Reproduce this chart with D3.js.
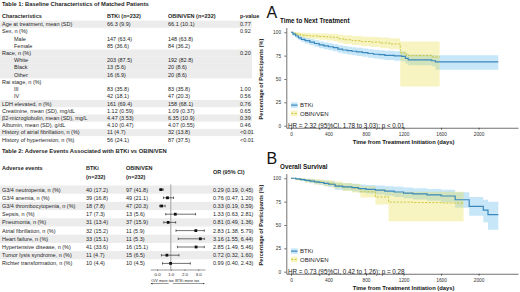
<!DOCTYPE html>
<html>
<head>
<meta charset="utf-8">
<script src="https://cdn.jsdelivr.net/npm/d3@7"></script>
<style>
  body { margin: 0; background: #fff; }
  svg { display: block; font-family: "Liberation Sans", Arial, sans-serif; }
</style>
</head>
<body>
<svg id="fig" width="520" height="292"></svg>
<script>
// ---------- Table 1 data ----------
const t1Header = ["Characteristics", "BTKi (n=232)", "OBIN/VEN (n=232)", "p-value"];
const t1Labels = ["Age at treatment, mean (SD)", "Sex, n (%)", "Male", "Female", "Race, n (%)", "White", "Black", "Other",
  "Rai stage, n (%)", "III", "IV", "LDH elevated, n (%)", "Creatinine, mean (SD), mg/dL", "β2-microglobulin, mean (SD), mg/L",
  "Albumin, mean (SD), g/dL", "History of atrial fibrillation, n (%)", "History of hypertension, n (%)"];
const t1Sub = [0, 0, 1, 1, 0, 1, 1, 1, 0, 1, 1, 0, 0, 0, 0, 0, 0];
const t1Btki = ["66.3 (9.9)", "", "147 (63.4)", "85 (36.6)", "", "203 (87.5)", "13 (5.6)", "16 (6.9)", "", "83 (35.8)", "42 (18.1)",
  "161 (69.4)", "1.12 (0.59)", "4.47 (3.53)", "4.10 (0.47)", "11 (4.7)", "56 (24.1)"];
const t1Obin = ["66.1 (10.1)", "", "148 (63.8)", "84 (36.2)", "", "192 (82.8)", "20 (8.6)", "20 (8.6)", "", "83 (35.8)", "47 (20.3)",
  "158 (68.1)", "1.09 (0.37)", "6.35 (10.9)", "4.07 (0.55)", "32 (13.8)", "87 (37.5)"];
const t1P = ["0.77", "0.92", "", "", "0.20", "", "", "", "", "1.00", "0.56", "0.76", "0.65", "0.39", "0.46", "<0.01", "<0.01"];

// ---------- Table 2 data ----------
const t2Header = ["Adverse events", "BTKi", "OBIN/VEN", "OR (95% CI)"];
const t2N = ["(n=232)", "(n=232)"];
const t2Labels = ["G3/4 neutropenia, n (%)", "G3/4 anemia, n (%)", "G3/4 thrombocytopenia, n (%)", "Sepsis, n (%)", "Pneumonia, n (%)",
  "Atrial fibrillation, n (%)", "Heart failure, n (%)", "Hypertensive disease, n (%)", "Tumor lysis syndrome, n (%)", "Richter transformation, n (%)"];
const t2Btki = ["40 (17.2)", "39 (16.8)", "18 (7.8)", "17 (7.3)", "31 (13.4)", "32 (15.2)", "33 (15.1)", "41 (33.6)", "11 (4.7)", "10 (4.4)"];
const t2Obin = ["97 (41.8)", "49 (21.1)", "47 (20.3)", "13 (5.6)", "37 (15.9)", "11 (5.9)", "11 (5.3)", "16 (15.1)", "15 (6.5)", "10 (4.5)"];
const orEst = [0.29, 0.76, 0.33, 1.33, 0.81, 2.83, 3.16, 2.85, 0.72, 0.99];
const orLo = [0.19, 0.47, 0.19, 0.63, 0.49, 1.38, 1.55, 1.49, 0.32, 0.40];
const orHi = [0.45, 1.20, 0.59, 2.81, 1.36, 5.79, 6.44, 5.46, 1.60, 2.43];
const orTicks = [0, 1, 2, 3];

// ---------- KM: time to next treatment ----------
const ttntBtkiT = [0, 20, 50, 80, 110, 150, 200, 250, 300, 350, 400, 450, 500, 550, 600, 650, 700, 760, 820, 880, 940, 1000, 1100, 1180, 1220, 1250, 1500, 1540, 2210];
const ttntBtkiS = [100, 98, 96, 94, 92.5, 91, 89.5, 88, 86.5, 85.5, 84.5, 83.5, 82, 81, 80.3, 79.7, 79, 78.2, 77.3, 76.5, 76, 75.3, 74.8, 74.3, 72, 70.5, 69.5, 68.3, 68.3];
const ttntBtkiLo = [100, 96, 93.5, 91.5, 89.5, 87.8, 86, 84.5, 83, 81.8, 80.8, 79.7, 78.2, 77, 76.2, 75.5, 74.7, 73.8, 72.8, 71.8, 71.2, 70.4, 69.6, 69, 66.5, 64.8, 63.5, 60, 60];
const ttntBtkiHi = [100, 100, 98.5, 96.8, 95.5, 94, 92.8, 91.5, 90, 89, 88.2, 87.3, 86, 85.2, 84.5, 84, 83.4, 82.7, 81.8, 81.2, 80.8, 80.2, 79.8, 79.5, 77.5, 76.2, 75.8, 75.5, 75.5];
const ttntObinT = [0, 30, 60, 100, 150, 200, 300, 380, 450, 500, 560, 650, 750, 850, 950, 1050, 1165, 1230, 1500, 1585];
const ttntObinS = [100, 99, 98, 97, 96.5, 96, 95.5, 95, 94.5, 93, 92, 91, 90, 89.5, 88.5, 87.5, 78, 75, 73.5, 73.5];
const ttntObinLo = [100, 97.5, 96, 94.5, 93.5, 93, 92, 91.2, 90.5, 88.8, 87.5, 86.3, 85, 84.2, 83, 81.8, 42, 42, 42, 42];
const ttntObinHi = [100, 100, 100, 99.5, 99.2, 99, 98.8, 98.5, 98.3, 97.3, 96.7, 96, 95.3, 95, 94.3, 93.7, 90, 90, 90, 90];

// ---------- KM: overall survival ----------
const osBtkiT = [0, 50, 100, 150, 200, 250, 300, 350, 400, 470, 550, 650, 720, 800, 900, 1000, 1100, 1200, 1300, 1450, 1600, 1750, 1900, 2050, 2100, 2210];
const osBtkiS = [100, 99.3, 98.6, 97.8, 97, 96.2, 95.5, 94.6, 93.6, 91.5, 90.8, 90, 89, 88.2, 87.3, 86.3, 85.3, 84.2, 83.3, 82.2, 81, 77, 70, 66, 61, 61];
const osBtkiLo = [100, 98.2, 97, 95.8, 94.7, 93.6, 92.7, 91.5, 90.3, 87.8, 86.9, 85.9, 84.7, 83.6, 82.5, 81.2, 80, 78.6, 77.4, 75.9, 74.2, 68.5, 60, 53, 45, 45];
const osBtkiHi = [100, 100, 100, 99.5, 99.1, 98.6, 98.2, 97.6, 96.9, 95.3, 94.8, 94.2, 93.4, 92.8, 92.2, 91.5, 90.8, 90, 89.4, 88.6, 87.8, 85, 80, 77, 75, 75];
const osObinT = [0, 60, 150, 250, 350, 450, 550, 650, 740, 900, 1040, 1300, 1600, 1840];
const osObinS = [100, 99, 97.5, 96, 94.5, 92.5, 90.5, 89.3, 85.5, 80, 74.5, 74, 73.5, 73.5];
const osObinLo = [100, 97.5, 95.3, 93.4, 91.5, 89, 86.5, 84.8, 79.5, 72, 54, 54, 54, 54];
const osObinHi = [100, 100, 99.5, 98.8, 97.8, 96.5, 95, 94, 91.5, 88.5, 85.5, 85.5, 85.5, 85.5];

const groups = ["BTKi", "OBIN/VEN"];
const yTicks = [0, 25, 50, 75, 100];
const xTicks = [0, 400, 800, 1200, 1600, 2000];

const svg = d3.select("#fig");
const ink = "#262626";
const stripe = "#ececec";
const fs = 5.5;

// ================= Table 1 =================
svg.append("text").attr("x", 2).attr("y", 6.4)
  .attr("font-size", 5.8).attr("font-weight", "bold").attr("fill", ink)
  .text("Table 1: Baseline Characteristics of Matched Patients");

const t1Cols = [2, 107, 168, 240];
const t1y = d3.scaleBand().domain(d3.range(t1Labels.length)).range([20.6, 20.6 + 7.22 * t1Labels.length]);

// shading alternates per group (a group starts at every non-indented row)
let grp = -1;
const t1Grp = t1Sub.map(s => (s ? grp : ++grp));
svg.append("g").selectAll("rect")
  .data(d3.range(t1Labels.length).filter(i => t1Grp[i] % 2 === 0))
  .join("rect")
  .attr("x", 0).attr("width", 252)
  .attr("y", i => t1y(i)).attr("height", t1y.bandwidth())
  .attr("fill", stripe);

svg.append("g").selectAll("text")
  .data(t1Header).join("text")
  .attr("x", (d, i) => t1Cols[i]).attr("y", 18)
  .attr("font-size", fs).attr("font-weight", "bold").attr("fill", ink)
  .text(d => d);

const t1Body = svg.append("g").attr("font-size", fs).attr("fill", ink);
[t1Labels, t1Btki, t1Obin, t1P].forEach((col, c) => {
  t1Body.append("g").selectAll("text")
    .data(col).join("text")
    .attr("x", (d, i) => t1Cols[c] + (c === 0 && t1Sub[i] ? 12 : 0))
    .attr("y", (d, i) => t1y(i) + t1y.bandwidth() / 2)
    .attr("dy", "0.35em")
    .text(d => d);
});

// ================= Table 2 =================
svg.append("text").attr("x", 2).attr("y", 152.5)
  .attr("font-size", 5.8).attr("font-weight", "bold").attr("fill", ink)
  .text("Table 2: Adverse Events Associated with BTKi vs OBIN/VEN");

const t2Cols = [2, 86, 126, 213];
const t2y = d3.scaleBand().domain(d3.range(t2Labels.length)).range([185.5, 185.5 + 8.2 * t2Labels.length]);

svg.append("g").selectAll("rect")
  .data(d3.range(t2Labels.length).filter(i => i % 2 === 0))
  .join("rect")
  .attr("x", 0).attr("width", 252)
  .attr("y", i => t2y(i)).attr("height", t2y.bandwidth())
  .attr("fill", stripe);

svg.append("g").selectAll("text")
  .data(t2Header).join("text")
  .attr("x", (d, i) => t2Cols[i]).attr("y", (d, i) => (i === 3 ? 174 : 169.5))
  .attr("font-size", fs).attr("font-weight", "bold").attr("fill", ink)
  .text(d => d);
svg.append("g").selectAll("text")
  .data(t2N).join("text")
  .attr("x", (d, i) => t2Cols[i + 1]).attr("y", 179)
  .attr("font-size", fs).attr("font-weight", "bold").attr("fill", ink)
  .text(d => d);

const orText = orEst.map((d, i) => `${d.toFixed(2)} (${orLo[i].toFixed(2)}, ${orHi[i].toFixed(2)})`);
const t2Body = svg.append("g").attr("font-size", fs).attr("fill", ink);
[t2Labels, t2Btki, t2Obin, orText].forEach((col, c) => {
  t2Body.append("g").selectAll("text")
    .data(col).join("text")
    .attr("x", t2Cols[c])
    .attr("y", (d, i) => t2y(i) + t2y.bandwidth() / 2)
    .attr("dy", "0.35em")
    .text(d => d);
});

// forest plot
const fx = d3.scaleLinear().domain([-0.5, 3.5]).range([150.2, 205]);
const clipHi = 3.45;
const fTop = t2y.range()[0] - 1;
const fAxisY = t2y.range()[1] + 2;
svg.append("line")
  .attr("x1", fx(1)).attr("x2", fx(1)).attr("y1", fTop).attr("y2", fAxisY)
  .attr("stroke", "#b5b5b5").attr("stroke-width", 1.3);

const forest = svg.append("g").selectAll("g")
  .data(d3.range(orEst.length)).join("g")
  .attr("transform", i => `translate(0,${t2y(i) + t2y.bandwidth() / 2})`);
forest.append("line")
  .attr("x1", i => fx(orLo[i])).attr("x2", i => fx(Math.min(orHi[i], clipHi)))
  .attr("stroke", "#111").attr("stroke-width", 0.6);
forest.append("line")
  .attr("x1", i => fx(orLo[i])).attr("x2", i => fx(orLo[i])).attr("y1", -1.2).attr("y2", 1.2)
  .attr("stroke", "#111").attr("stroke-width", 0.6);
forest.append("line")
  .attr("x1", i => fx(Math.min(orHi[i], clipHi))).attr("x2", i => fx(Math.min(orHi[i], clipHi))).attr("y1", -1.2).attr("y2", 1.2)
  .attr("stroke", "#111").attr("stroke-width", 0.6);
forest.append("rect")
  .attr("x", i => fx(orEst[i]) - 1.4).attr("y", -1.4).attr("width", 2.8).attr("height", 2.8)
  .attr("fill", "#111");

const fAxis = svg.append("g").attr("transform", `translate(0,${fAxisY})`)
  .call(d3.axisBottom(fx).tickValues(orTicks).tickSize(1.5).tickSizeOuter(0).tickPadding(1.5));
fAxis.selectAll("text").attr("font-size", 4.4).attr("fill", ink);
fAxis.selectAll("line,path").attr("stroke", "#333").attr("stroke-width", 0.5);

const arrowY = fAxisY + 14;
svg.append("defs").append("marker")
  .attr("id", "arr").attr("viewBox", "0 0 6 6").attr("refX", 5).attr("refY", 3)
  .attr("markerWidth", 4).attr("markerHeight", 4).attr("orient", "auto-start-reverse")
  .append("path").attr("d", "M0,0L6,3L0,6Z").attr("fill", "#333");
svg.append("line").attr("x1", fx(0.85)).attr("x2", fx(-0.45)).attr("y1", arrowY).attr("y2", arrowY)
  .attr("stroke", "#333").attr("stroke-width", 0.5).attr("marker-end", "url(#arr)");
svg.append("line").attr("x1", fx(1.15)).attr("x2", fx(3.45)).attr("y1", arrowY).attr("y2", arrowY)
  .attr("stroke", "#333").attr("stroke-width", 0.5).attr("marker-end", "url(#arr)");
svg.append("text").attr("x", fx(0.4)).attr("y", arrowY - 1.3).attr("text-anchor", "middle")
  .attr("font-size", 3.8).attr("fill", ink).text("O/V more tox");
svg.append("text").attr("x", fx(2.2)).attr("y", arrowY - 1.3).attr("text-anchor", "middle")
  .attr("font-size", 3.8).attr("fill", ink).text("BTKi more tox");

// ================= KM panels =================
const lineCol = { "BTKi": "#3a88bd", "OBIN/VEN": "#c6c02c" };
const ribCol = { "BTKi": "#56b4e9", "OBIN/VEN": "#e6df45" };

function kmPanel(top, letter, title, hr, curves) {
  const g = svg.append("g");
  const x = d3.scaleLinear().domain([-50, 2420]).range([286.3, 518]);
  const y = d3.scaleLinear().domain([-2.2, 105]).range([top + 95.45, top - 4.7]);

  g.append("text").attr("x", 266.5).attr("y", top - 14).attr("font-size", 16).attr("fill", "#111").text(letter);
  g.append("text").attr("x", 280).attr("y", top - 9.3).attr("font-size", 6.3).attr("font-weight", "bold").attr("fill", "#111").text(title);

  curves.forEach(c => {
    const pts = c.t.map((t, i) => ({ t, lo: c.lo[i], hi: c.hi[i] }));
    g.append("path").datum(pts)
      .attr("d", d3.area().curve(d3.curveStepAfter).x(d => x(d.t)).y0(d => y(d.lo)).y1(d => y(d.hi)))
      .attr("fill", ribCol[c.name]).attr("fill-opacity", 0.33);
  });
  curves.slice().reverse().forEach(c => {
    const pts = c.t.map((t, i) => ({ t, s: c.s[i] }));
    g.append("path").datum(pts)
      .attr("d", d3.line().curve(d3.curveStepAfter).x(d => x(d.t)).y(d => y(d.s)))
      .attr("fill", "none").attr("stroke", lineCol[c.name])
      .attr("stroke-width", c.name === "BTKi" ? 1.2 : 0.85)
      .attr("stroke-dasharray", c.name === "BTKi" ? null : "2.2,1.4");
  });

  const ax = g.append("g").attr("transform", `translate(0,${y.range()[0]})`)
    .call(d3.axisBottom(x).tickValues(xTicks).tickFormat(d3.format("d")).tickSize(2).tickSizeOuter(0).tickPadding(2.6));
  const ay = g.append("g").attr("transform", `translate(${x.range()[0]},0)`)
    .call(d3.axisLeft(y).tickValues(yTicks).tickSize(2).tickSizeOuter(0).tickPadding(3.2));
  [ax, ay].forEach(a => {
    a.selectAll("text").attr("font-size", 4.8).attr("fill", "#333");
    a.selectAll("line,path").attr("stroke", "#111").attr("stroke-width", 0.6);
  });

  g.append("text").attr("x", x(1200)).attr("y", y.range()[0] + 16).attr("text-anchor", "middle")
    .attr("font-size", 5.8).attr("font-weight", "bold").attr("fill", "#111")
    .text("Time from Treatment Initiation (days)");
  g.append("text").attr("transform", `translate(263,${y(50)}) rotate(-90)`).attr("text-anchor", "middle")
    .attr("font-size", 5.6).attr("font-weight", "bold").attr("fill", "#222")
    .text("Percentage of Participants (%)");

  // legend
  const lg = g.append("g").selectAll("g").data(groups).join("g")
    .attr("transform", (d, i) => `translate(291,${y(22) + i * 8.3})`);
  lg.append("rect").attr("x", 0).attr("y", -2.8).attr("width", 6.6).attr("height", 5.6)
    .attr("fill", d => ribCol[d]).attr("fill-opacity", 0.33);
  lg.append("line").attr("x1", 0).attr("x2", 6.6)
    .attr("stroke", d => lineCol[d]).attr("stroke-width", d => (d === "BTKi" ? 1.2 : 0.85))
    .attr("stroke-dasharray", d => (d === "BTKi" ? null : "2.2,1.4"));
  lg.append("text").attr("x", 9).attr("dy", "0.35em").attr("font-size", 6).attr("fill", "#222").text(d => d);

  g.append("text").attr("x", 288).attr("y", y(0)).attr("dy", "0.35em")
    .attr("font-size", 6.3).attr("fill", "#222").text(hr);
}

kmPanel(32.3, "A", "Time to Next Treatment", "HR = 2.32 (95%CI, 1.78 to 3.03); p < 0.01", [
  { name: "BTKi", t: ttntBtkiT, s: ttntBtkiS, lo: ttntBtkiLo, hi: ttntBtkiHi },
  { name: "OBIN/VEN", t: ttntObinT, s: ttntObinS, lo: ttntObinLo, hi: ttntObinHi }
]);
kmPanel(178.3, "B", "Overall Survival", "HR = 0.73 (95%CI, 0.42 to 1.26); p = 0.28", [
  { name: "BTKi", t: osBtkiT, s: osBtkiS, lo: osBtkiLo, hi: osBtkiHi },
  { name: "OBIN/VEN", t: osObinT, s: osObinS, lo: osObinLo, hi: osObinHi }
]);
</script>
</body>
</html>
